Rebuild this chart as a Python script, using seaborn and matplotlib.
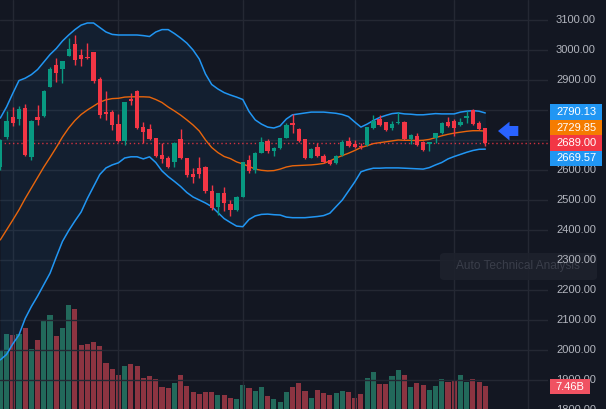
import numpy as np
import pandas as pd
import matplotlib
matplotlib.use("Agg")
import matplotlib.pyplot as plt
import matplotlib.transforms as mtransforms
from matplotlib.patches import Rectangle, Polygon, FancyBboxPatch
import seaborn as sns

# ---------------- data ----------------
opens = [2611, 2709, 2777, 2770, 2806, 2644, 2777, 2780, 2878, 2949,
         2938, 2981, 3020, 2984, 2976, 2993, 2905, 2794, 2794, 2752,
         2697, 2837, 2864, 2742, 2736, 2706, 2650, 2639, 2628, 2702,
         2639, 2587, 2606, 2611, 2531, 2476, 2522, 2487, 2467, 2511,
         2633, 2600, 2658, 2698, 2663, 2672, 2708, 2756, 2737, 2702,
         2641, 2678, 2648, 2633, 2622, 2650, 2698, 2686, 2680, 2683,
         2739, 2770, 2759, 2741, 2756, 2761, 2703, 2714, 2694, 2687,
         2706, 2722, 2761, 2763, 2750, 2772, 2800, 2756, 2739]
highs = [2705, 2798, 2809, 2813, 2820, 2768, 2817, 2866, 2942, 2974,
         2964, 3039, 3050, 3002, 3022, 2995, 2910, 2864, 2800, 2787,
         2828, 2856, 2866, 2761, 2753, 2708, 2689, 2647, 2692, 2737,
         2641, 2606, 2644, 2613, 2550, 2524, 2542, 2500, 2513, 2628,
         2650, 2660, 2711, 2702, 2677, 2708, 2756, 2787, 2740, 2704,
         2672, 2689, 2653, 2635, 2650, 2700, 2709, 2700, 2689, 2744,
         2783, 2783, 2761, 2764, 2792, 2763, 2719, 2722, 2696, 2694,
         2724, 2760, 2776, 2769, 2774, 2797, 2802, 2764, 2741]
lows = [2600, 2705, 2747, 2749, 2647, 2633, 2749, 2778, 2876, 2894,
        2889, 2979, 2950, 2948, 2970, 2889, 2775, 2767, 2733, 2695,
        2683, 2817, 2736, 2689, 2700, 2644, 2622, 2606, 2609, 2637,
        2578, 2556, 2572, 2522, 2467, 2450, 2464, 2447, 2464, 2509,
        2589, 2589, 2656, 2656, 2647, 2670, 2706, 2722, 2694, 2637,
        2639, 2645, 2624, 2617, 2620, 2648, 2678, 2672, 2669, 2681,
        2737, 2748, 2731, 2733, 2754, 2700, 2687, 2680, 2663, 2664,
        2691, 2720, 2744, 2713, 2748, 2756, 2751, 2733, 2680]
closes = [2700, 2764, 2756, 2802, 2650, 2763, 2767, 2864, 2936, 2922,
          2962, 3004, 2967, 2969, 2972, 2897, 2783, 2787, 2750, 2697,
          2826, 2831, 2741, 2728, 2702, 2647, 2636, 2611, 2689, 2639,
          2583, 2578, 2587, 2531, 2472, 2522, 2489, 2467, 2511, 2626,
          2598, 2658, 2694, 2664, 2674, 2706, 2750, 2751, 2698, 2639,
          2670, 2647, 2628, 2620, 2648, 2694, 2680, 2678, 2677, 2742,
          2764, 2750, 2733, 2752, 2759, 2702, 2717, 2683, 2667, 2692,
          2722, 2758, 2748, 2741, 2761, 2781, 2753, 2736, 2689]
volumes_b = [19.1, 24.3, 24.0, 24.3, 26.3, 19.5, 22.4, 28.8, 30.6, 23.8,
             26.1, 33.6, 32.4, 20.7, 21.1, 21.7, 20.4, 14.9, 13.0, 11.0,
             13.9, 14.6, 13.9, 10.2, 10.8, 9.8, 7.1, 6.8, 8.3, 11.0,
             7.5, 5.4, 4.8, 5.4, 5.4, 4.5, 4.5, 3.6, 3.3, 7.8,
             6.8, 5.9, 7.1, 4.2, 3.2, 2.4, 5.4, 7.1, 8.3, 5.7,
             3.7, 6.3, 5.2, 4.5, 5.1, 5.9, 5.6, 3.6, 4.8, 10.0,
             12.0, 8.1, 8.1, 10.7, 12.5, 10.9, 7.1, 8.3, 7.8, 6.3,
             7.5, 9.7, 8.8, 9.4, 11.0, 8.6, 9.6, 8.6, 7.46]
bb_upper = [2773, 2810, 2855, 2898, 2906, 2918, 2935, 2960, 2985, 3005,
            3030, 3050, 3068, 3083, 3090, 3090, 3075, 3060, 3052, 3050,
            3050, 3050, 3050, 3048, 3045, 3060, 3068, 3068, 3055, 3040,
            3023, 3000, 2970, 2920, 2885, 2870, 2858, 2850, 2843, 2835,
            2795, 2767, 2753, 2743, 2740, 2747, 2770, 2784, 2787, 2790,
            2793, 2793, 2793, 2791, 2789, 2785, 2778, 2760, 2743, 2753,
            2765, 2775, 2782, 2788, 2790, 2787, 2786, 2784, 2784, 2786,
            2788, 2787, 2787, 2787, 2793, 2796, 2798, 2796, 2790.13]
bb_basis = [2367, 2400, 2433, 2467, 2505, 2540, 2575, 2610, 2642, 2675,
            2710, 2740, 2765, 2785, 2800, 2813, 2826, 2834, 2838, 2839,
            2843, 2844, 2844, 2844, 2843, 2835, 2825, 2810, 2797, 2783,
            2767, 2750, 2730, 2700, 2675, 2658, 2645, 2638, 2627, 2620,
            2612, 2603, 2599, 2597, 2598, 2603, 2610, 2614, 2615, 2616,
            2617, 2619, 2622, 2630, 2640, 2648, 2656, 2665, 2675, 2681,
            2688, 2691, 2694, 2697, 2700, 2699, 2699, 2698, 2699, 2702,
            2708, 2714, 2719, 2723, 2726, 2729, 2731, 2731, 2729.85]
bb_lower = [1967, 1985, 2020, 2050, 2105, 2145, 2180, 2218, 2256, 2310,
            2362, 2398, 2430, 2460, 2505, 2545, 2585, 2607, 2617, 2624,
            2640, 2644, 2644, 2637, 2644, 2625, 2597, 2578, 2562, 2545,
            2525, 2510, 2500, 2490, 2478, 2458, 2438, 2425, 2413, 2411,
            2435, 2447, 2452, 2453, 2451, 2450, 2443, 2441, 2441, 2441,
            2443, 2445, 2448, 2456, 2478, 2500, 2530, 2560, 2594, 2601,
            2606, 2606, 2607, 2607, 2607, 2606, 2605, 2604, 2603, 2608,
            2617, 2625, 2637, 2645, 2652, 2659, 2665, 2669, 2669.57]
grid_levels = [3100, 3000, 2900, 2800, 2700, 2600, 2500, 2400, 2300,
               2200, 2100, 2000, 1900, 1800]
# 2800.00 and 2700.00 are fully hidden behind the value labels in the reference
tick_labels = [3100, 3000, 2900, 2600, 2500, 2400, 2300,
               2200, 2100, 2000, 1900, 1800]
last_price = 2689.00
last_volume_label = "7.46B"
watermark = "Auto Technical Analysis"

df = pd.DataFrame({"i": np.arange(len(opens)), "open": opens, "high": highs,
                   "low": lows, "close": closes, "vol": volumes_b,
                   "upper": bb_upper, "basis": bb_basis, "lower": bb_lower})
df["up"] = df["close"] >= df["open"]

# ---------------- style ----------------
sns.set_theme(style="dark")
plt.rcParams['font.family'] = ['Liberation Sans', 'DejaVu Sans']

BG = '#131722'
GRID = '#242833'
GREEN = '#089981'
RED = '#f23645'
VGREEN = '#22695b'
VRED = '#8c3441'
BLUE = '#2196f3'
ORANGE = '#e8650c'
TXT = '#b2b5be'

W, H = 606, 409
fig = plt.figure(figsize=(W / 100, H / 100), dpi=100, facecolor=BG)
rect = [0, 0, 548 / W, 1]
axv = fig.add_axes(rect)
ax = fig.add_axes(rect, sharex=axv)
axv.set_facecolor(BG)
ax.patch.set_alpha(0)

px_per_bar = 6.218
x0 = 0.3
ax.set_xlim(-x0 / px_per_bar, (548 - x0) / px_per_bar)
ax.set_ylim(3100 - 389 / 0.3, 3100 + 20 / 0.3)
axv.set_ylim(0, 409 * 0.324)

for a in (ax, axv):
    a.set_xticks([])
    a.set_yticks([])
    for s in a.spines.values():
        s.set_visible(False)
    a.grid(False)

# grid
for lvl in grid_levels:
    ax.axhline(lvl, color=GRID, lw=1, zorder=0.5)
for gx in [13, 118, 243, 355, 454, 528]:
    ax.axvline((gx - x0) / px_per_bar, color=GRID, lw=1, zorder=0.5)

# volume
vcols = [VGREEN if u else VRED for u in df["up"]]
axv.bar(df["i"], df["vol"], width=0.82, color=vcols, linewidth=0)

# bollinger bands
ax.fill_between(df["i"], df["lower"], df["upper"], color=BLUE, alpha=0.07,
                linewidth=0, zorder=1)
sns.lineplot(data=df, x="i", y="upper", ax=ax, color=BLUE, linewidth=1.1, zorder=2)
sns.lineplot(data=df, x="i", y="lower", ax=ax, color=BLUE, linewidth=1.1, zorder=2)
sns.lineplot(data=df, x="i", y="basis", ax=ax, color=ORANGE, linewidth=1.0, zorder=2)
ax.set_xlabel("")
ax.set_ylabel("")
ax.set_xticks([])
ax.set_yticks([])

# last price dotted line
ax.axhline(last_price, color=RED, lw=1, ls=(0, (1, 2)), alpha=0.85, zorder=2.5)

# candles
ccols = [GREEN if u else RED for u in df["up"]]
ax.vlines(df["i"], df["low"], df["high"], colors=ccols, lw=1, zorder=3)
body_lo = np.minimum(df["open"], df["close"])
body_h = np.maximum(np.abs(df["close"] - df["open"]), 3.0)
ax.bar(df["i"], body_h, bottom=body_lo, width=0.7, color=ccols, linewidth=0, zorder=3.5)

# ---------------- price scale ----------------
def fx(px):
    return px / W

def fy(py):
    return 1 - py / H

blend = mtransforms.blended_transform_factory(fig.transFigure, ax.transData)

# watermark box
wm = FancyBboxPatch((fx(440), fy(280)), fx(597) - fx(440), fy(253) - fy(280),
                    boxstyle="round,pad=0,rounding_size=0.008",
                    transform=fig.transFigure, facecolor='#1e222d', alpha=0.85,
                    edgecolor='none', zorder=5)
fig.patches.append(wm)
fig.text(fx(518), fy(266.5), watermark, color='#3a3e4a', fontsize=8.6,
         ha='center', va='center', zorder=6)

for lvl in tick_labels:
    fig.text(fx(556), lvl, f"{lvl:.2f}", transform=blend, color=TXT,
             fontsize=8, ha='left', va='center', zorder=7)

# stacked value labels
labels = [(f"{bb_upper[-1]:.2f}", BLUE, 104.5, 120.0),
          (f"{bb_basis[-1]:.2f}", '#f57c00', 120.0, 135.3),
          (f"{last_price:.2f}", RED, 135.3, 150.7),
          (f"{bb_lower[-1]:.2f}", BLUE, 150.7, 166.0)]
for txt, col, y1, y2 in labels:
    fig.patches.append(Rectangle((fx(550), fy(y2)), fx(602) - fx(550), fy(y1) - fy(y2),
                                 transform=fig.transFigure, facecolor=col,
                                 edgecolor='none', zorder=8))
    fig.text(fx(576.5), fy((y1 + y2) / 2), txt, color='white', fontsize=8,
             ha='center', va='center', zorder=9)

# volume label
fig.patches.append(Rectangle((fx(550), fy(394)), fx(590) - fx(550), fy(379) - fy(394),
                             transform=fig.transFigure, facecolor='#f05262',
                             edgecolor='none', zorder=8))
fig.text(fx(570), fy(386.5), last_volume_label, color='white', fontsize=8,
         ha='center', va='center', zorder=9)

# blue arrow
arrow = Polygon([(fx(498), fy(131)), (fx(509.5), fy(121.7)), (fx(509.5), fy(126)),
                 (fx(518.3), fy(126)), (fx(518.3), fy(136)), (fx(509.5), fy(136)),
                 (fx(509.5), fy(140.5))], closed=True, transform=fig.transFigure,
                facecolor='#2962ff', edgecolor='none', zorder=8)
fig.patches.append(arrow)

fig.savefig("out.png", dpi=100, facecolor=BG)
